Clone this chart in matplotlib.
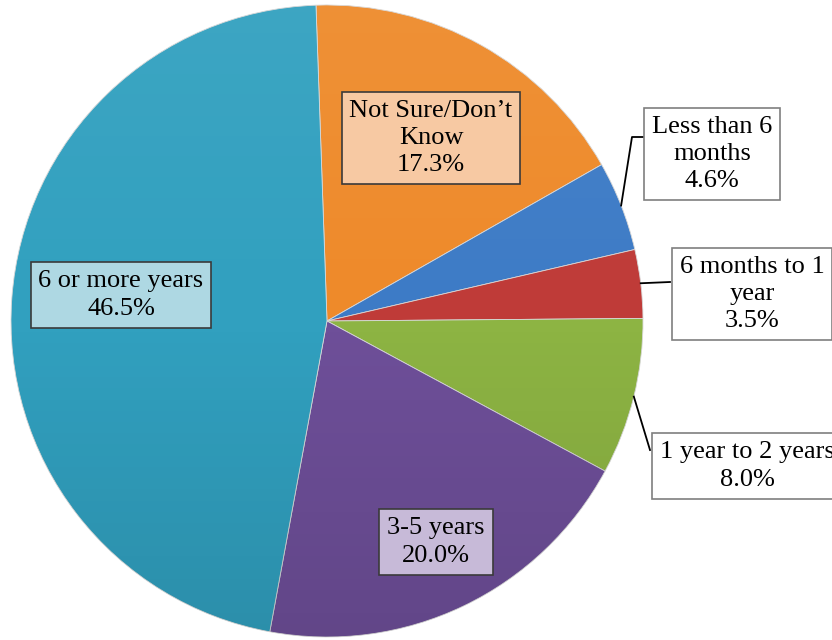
import numpy as np
import matplotlib.pyplot as plt
from matplotlib.patches import Circle

plt.rcParams["font.family"] = ["Liberation Serif", "DejaVu Serif"]

# ── Data ──────────────────────────────────────────────────────────────────────
labels = ["Not Sure/Don\u2019t\nKnow", "Less than 6\nmonths", "6 months to 1\nyear",
          "1 year to 2 years", "3-5 years", "6 or more years"]
shares = [17.3, 4.6, 3.5, 8.0, 20.0, 46.5]

colors = ["#EE8A2A", "#3D7BC6", "#BF3B38", "#8DB443", "#6E4F99", "#31A0BF"]
light  = ["#F7C9A3", "#FFFFFF", "#FFFFFF", "#FFFFFF", "#C7BAD8", "#AED8E3"]

# ── Layout (pixel-like coordinates, y measured from bottom) ──────────────────
W, H = 832, 640
CX, CY, R = 327, H - 321, 316
START = 92

fig = plt.figure(figsize=(W / 100, H / 100), dpi=100)
ax = fig.add_axes([0, 0, 1, 1])

wedges, _ = ax.pie(shares, colors=colors, startangle=START, counterclock=False,
                   radius=R, center=(CX, CY),
                   wedgeprops=dict(edgecolor="#d8d8d8", linewidth=0.6))

# soft top-to-bottom shading over the whole pie
grad = np.linspace(0, 1, 256).reshape(-1, 1)
shade = np.zeros((256, 1, 4))
shade[..., :3] = np.where(grad[..., None] < 0.5, 1.0, 0.0)
shade[..., 3] = np.where(grad < 0.5, (0.5 - grad) * 0.12, (grad - 0.5) * 0.22)
im = ax.imshow(shade, extent=(CX - R, CX + R, CY - R, CY + R),
               origin="upper", aspect="auto", zorder=3)
im.set_clip_path(Circle((CX, CY), R, transform=ax.transData))

# ── Labels ────────────────────────────────────────────────────────────────────
FS = 19
label_pos = [(431, 138), (712, 154), (752, 294), (747, 466), (436, 542), (121, 295)]
outside = [False, True, True, True, False, False]

for i, (lab, val) in enumerate(zip(labels, shares)):
    x, y = label_pos[i]
    edge = "#7f7f7f" if outside[i] else "#3a3a3a"
    ax.text(x, H - y, f"{lab}\n{val:.1f}%", ha="center", va="center",
            fontsize=FS, linespacing=1.32, color="black", zorder=6,
            bbox=dict(boxstyle="square,pad=0.3", fc=light[i], ec=edge, lw=1.2))

# leader lines for the small slices
bounds = np.cumsum([0] + shares)
def edge_point(i):
    mid = START - 360 * (bounds[i] + bounds[i + 1]) / 200
    return CX + R * np.cos(np.radians(mid)), CY + R * np.sin(np.radians(mid))

leaders = {1: [(632, 137), (643, 137)],
           2: [(670, 282)],
           3: [(650, 450)]}
for i, pts in leaders.items():
    x0, y0 = edge_point(i)
    xs = [x0] + [p[0] for p in pts]
    ys = [y0] + [H - p[1] for p in pts]
    ax.plot(xs, ys, color="black", lw=1.3, zorder=5)

ax.set_xlim(0, W)
ax.set_ylim(0, H)
ax.set_aspect("equal")
ax.axis("off")

fig.savefig("out.png", dpi=100, facecolor="white")
